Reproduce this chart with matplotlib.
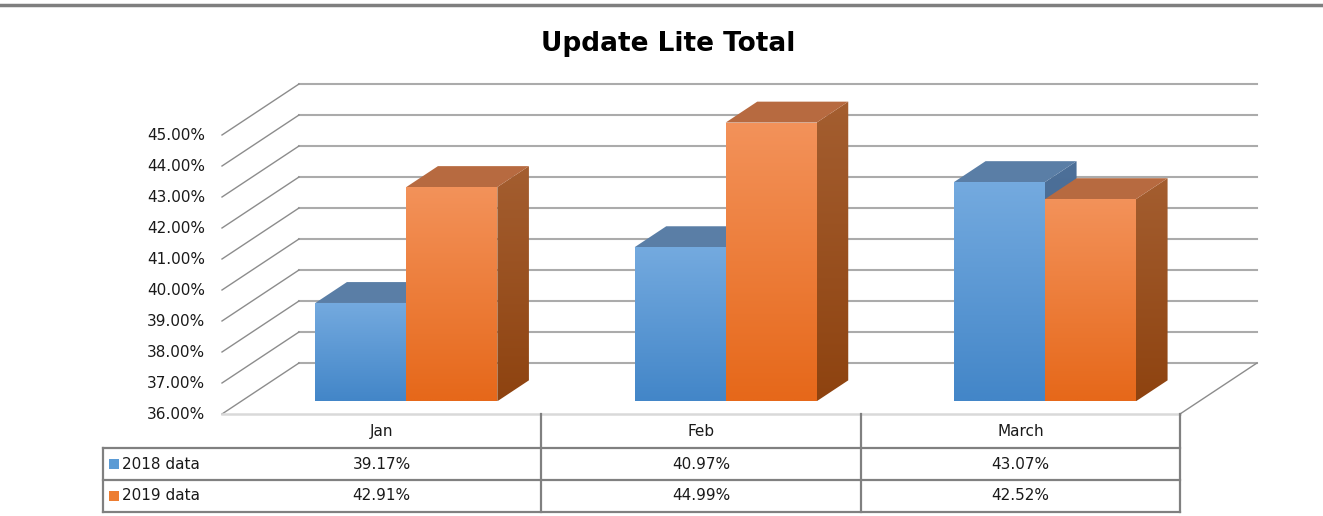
import matplotlib
matplotlib.use("Agg")
import matplotlib.pyplot as plt
import numpy as np
from matplotlib.patches import Polygon, Rectangle

# data
categories = ["Jan", "Feb", "March"]
series_names = ["2018 data", "2019 data"]
values_2018 = [39.17, 40.97, 43.07]
values_2019 = [42.91, 44.99, 42.52]
y_ticks = [36, 37, 38, 39, 40, 41, 42, 43, 44, 45]

# layout (pixels per unit on the figure)
W, H = 1323, 516
PX = 319.33          # px per category
PY = 31.0            # px per percent
X0, Y0 = 222, 414    # pixel of category -0.5 / value 36
DX = 77 / PX         # full depth offset, category units
DY = 51 / PY         # full depth offset, percent units
D0, D1 = 0.25, 0.66  # bar front/back depth
BAR_W = 91 / PX
SHIFT = 0.017

front_cols = [("#74aadf", "#4386c8"), ("#f3925a", "#e6681a")]
side_cols = [("#4d7099", "#3f6189"), ("#a45e30", "#8e4310")]
top_cols = ["#5a7ea6", "#b76a40"]
legend_cols = ["#5b9bd5", "#ed7d31"]
grid_col = "#ababab"
line_col = "#808080"

fig = plt.figure(figsize=(W / 100, H / 100), dpi=100)
ax = fig.add_axes([0, 0, 1, 1])
xlim = (-0.5 - X0 / PX, -0.5 + (W - X0) / PX)
ylim = (36 - (H - Y0) / PY, 36 + Y0 / PY)


def row_v(py):
    return 36 - (py - Y0) / PY


def cat_x(px):
    return -0.5 + (px - X0) / PX


def proj(x, v, d):
    return (x + d * DX, v + d * DY)


# back wall gridlines + side wall diagonals
for t in y_ticks:
    ax.plot([-0.5 + DX, 2.5 + DX], [t + DY, t + DY], color=grid_col, lw=1.5, zorder=1)
    ax.plot([-0.5, -0.5 + DX], [t, t + DY], color="#8c8c8c", lw=1.0, zorder=1)
    ax.text(cat_x(205), t, "%.2f%%" % t, ha="right", va="center", fontsize=11, color="#1a1a1a")

# floor edges
ax.plot([-0.5, 2.5], [36, 36], color="#d9d9d9", lw=1.8, zorder=1)
ax.plot([2.5, 2.5 + DX], [36, 36 + DY], color="#8c8c8c", lw=1.0, zorder=1)


def gradient_poly(pts, c_top, c_bot, z):
    poly = Polygon(pts, closed=True, facecolor="none", edgecolor="none", zorder=z)
    ax.add_patch(poly)
    xs = [p[0] for p in pts]
    ys = [p[1] for p in pts]
    c1 = np.array(matplotlib.colors.to_rgb(c_top))
    c2 = np.array(matplotlib.colors.to_rgb(c_bot))
    f = np.linspace(0, 1, 64)[:, None]
    img = (c1 * (1 - f) + c2 * f)[:, None, :]
    im = ax.imshow(img, extent=(min(xs), max(xs), min(ys), max(ys)), origin="upper",
                   aspect="auto", interpolation="bilinear", zorder=z)
    im.set_clip_path(poly)


z = 2
for i in range(len(categories)):
    for s, vals in enumerate([values_2018, values_2019]):
        v = vals[i]
        x = i - BAR_W + s * BAR_W + SHIFT
        # side face
        side = [proj(x + BAR_W, 36, D0), proj(x + BAR_W, v, D0),
                proj(x + BAR_W, v, D1), proj(x + BAR_W, 36, D1)]
        gradient_poly(side, side_cols[s][0], side_cols[s][1], z)
        # top face
        top = [proj(x, v, D0), proj(x + BAR_W, v, D0), proj(x + BAR_W, v, D1), proj(x, v, D1)]
        ax.add_patch(Polygon(top, closed=True, facecolor=top_cols[s], edgecolor="none", zorder=z + 1))
        # front face
        front = [proj(x, 36, D0), proj(x + BAR_W, 36, D0), proj(x + BAR_W, v, D0), proj(x, v, D0)]
        gradient_poly(front, front_cols[s][0], front_cols[s][1], z + 2)
        z += 3

# data table
r_top, r1, r2, r3 = row_v(414), row_v(448), row_v(480), row_v(512)
leg_x = cat_x(103)
for b in [0.5, 1.5, 2.5]:
    ax.plot([b, b], [r_top, r3], color=line_col, lw=1.6, zorder=50)
for r in [r1, r2, r3]:
    ax.plot([leg_x, 2.5], [r, r], color=line_col, lw=1.6, zorder=50)
ax.plot([leg_x, leg_x], [r1, r3], color=line_col, lw=1.6, zorder=50)

for i, c in enumerate(categories):
    ax.text(i, (r_top + r1) / 2, c, ha="center", va="center", fontsize=11, color="#1a1a1a")
    ax.text(i, (r1 + r2) / 2, "%.2f%%" % values_2018[i], ha="center", va="center", fontsize=11, color="#1a1a1a")
    ax.text(i, (r2 + r3) / 2, "%.2f%%" % values_2019[i], ha="center", va="center", fontsize=11, color="#1a1a1a")

for s, (name, rr) in enumerate(zip(series_names, [(r1, r2), (r2, r3)])):
    mid = (rr[0] + rr[1]) / 2
    sq = 10
    ax.add_patch(Rectangle((cat_x(109), mid - sq / 2 / PY), sq / PX, sq / PY,
                           facecolor=legend_cols[s], edgecolor="none", zorder=51))
    ax.text(cat_x(122), mid, name, ha="left", va="center", fontsize=11, color="#1a1a1a")

# chart border top
ax.plot(list(xlim), [row_v(5), row_v(5)], color="#7f7f7f", lw=2.5, zorder=60)

fig.text(0.505, 1 - 44 / H, "Update Lite Total", ha="center", va="center",
         fontsize=19, fontweight="bold", color="#000000")

ax.set_xlim(xlim)
ax.set_ylim(ylim)
ax.axis("off")

fig.savefig("out.png", dpi=100)
